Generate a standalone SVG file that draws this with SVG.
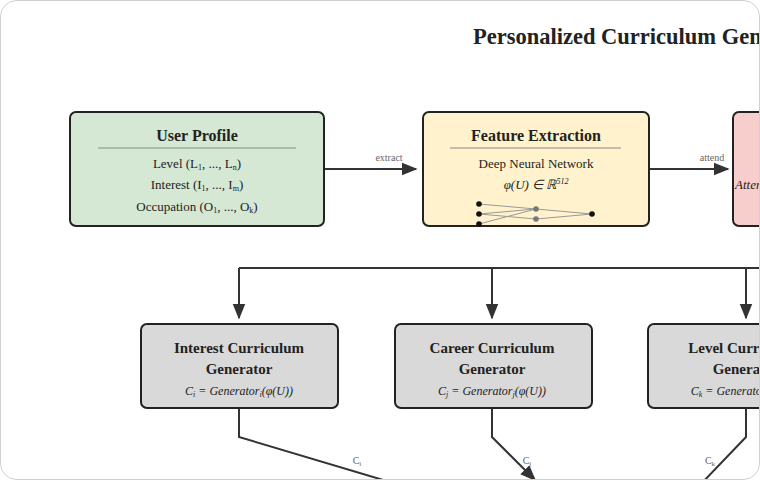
<svg xmlns="http://www.w3.org/2000/svg" width="760" height="480" viewBox="0 0 760 480" font-family="'Liberation Serif','Times New Roman',serif">
<defs>
<clipPath id="fr"><rect x="1" y="1" width="758" height="478" rx="16"/></clipPath>
<marker id="a" viewBox="0 0 10 10" refX="9" refY="5" markerWidth="16" markerHeight="16" markerUnits="userSpaceOnUse" orient="auto"><path d="M0,1 L10,5 L0,9 z" fill="#333"/></marker>
<style>
text{font-family:"Liberation Serif","Times New Roman",serif;fill:#222}
.box{stroke:#222;stroke-width:2}
.t{font-weight:bold;font-size:16px;text-anchor:middle}
.g{font-weight:bold;font-size:15px;text-anchor:middle}
.b{font-size:13px;text-anchor:middle}
.f{font-size:12px;font-style:italic;text-anchor:middle}
.lb{font-size:10px;fill:#666;text-anchor:middle}
.sep{stroke:#888;stroke-width:1.2}
.c{fill:none;stroke:#333;stroke-width:2}
.nn{stroke:#999;stroke-width:1}
</style>
</defs>
<rect x="0.5" y="0.5" width="759" height="479" rx="16" fill="#fff" stroke="#d0d0d0"/>
<g clip-path="url(#fr)">
<text x="473" y="44" style="font-weight:bold;font-size:22.5px">Personalized Curriculum Generation</text>
<g id="connectors">
<line class="c" x1="324" y1="169" x2="416" y2="169" marker-end="url(#a)"/>
<text class="lb" x="389" y="161">extract</text>
<line class="c" x1="649" y1="169" x2="728" y2="169" marker-end="url(#a)"/>
<text class="lb" x="712" y="161">attend</text>
<polyline class="c" points="760,268 239,268"/>
<line class="c" x1="239" y1="268" x2="239" y2="318" marker-end="url(#a)"/>
<line class="c" x1="492" y1="268" x2="492" y2="318" marker-end="url(#a)"/>
<line class="c" x1="746" y1="268" x2="746" y2="318" marker-end="url(#a)"/>
<polyline class="c" points="239,408 239,437 400,485"/>
<polyline class="c" points="492,408 492,437 535,480" marker-end="url(#a)"/>
<polyline class="c" points="746,408 746,437 700,485"/>
<text class="lb" x="357" y="464">C<tspan font-size="7" dy="2">i</tspan></text>
<text class="lb" x="527" y="464">C<tspan font-size="7" dy="2">j</tspan></text>
<text class="lb" x="710" y="464">C<tspan font-size="7" dy="2">k</tspan></text>
</g>
<g id="user-profile">
<rect class="box" x="70" y="112" width="254" height="114" rx="6" fill="#d5e8d4"/>
<text class="t" x="197" y="141">User Profile</text>
<line class="sep" x1="98" y1="148" x2="296" y2="148"/>
<text class="b" x="197" y="168">Level (L<tspan font-size="8" dy="2">1</tspan><tspan dy="-2">, ..., L</tspan><tspan font-size="8" dy="2">n</tspan><tspan dy="-2">)</tspan></text>
<text class="b" x="197" y="189">Interest (I<tspan font-size="8" dy="2">1</tspan><tspan dy="-2">, ..., I</tspan><tspan font-size="8" dy="2">m</tspan><tspan dy="-2">)</tspan></text>
<text class="b" x="197" y="211">Occupation (O<tspan font-size="8" dy="2">1</tspan><tspan dy="-2">, ..., O</tspan><tspan font-size="8" dy="2">k</tspan><tspan dy="-2">)</tspan></text>
</g>
<g id="feature-extraction">
<rect class="box" x="423" y="112" width="226" height="114" rx="6" fill="#fff2cc"/>
<text class="t" x="536" y="141">Feature Extraction</text>
<line class="sep" x1="450" y1="148" x2="621" y2="148"/>
<text class="b" x="536" y="168">Deep Neural Network</text>
<text class="b" x="536" y="189" font-style="italic">φ(U) ∈ ℝ<tspan font-size="8" dy="-5">512</tspan></text>
<g class="nn">
<line x1="479" y1="204" x2="536" y2="209"/><line x1="479" y1="214" x2="536" y2="219"/>
<line x1="479" y1="224" x2="536" y2="209"/><line x1="479" y1="214" x2="536" y2="209"/>
<line x1="536" y1="209" x2="592" y2="214"/><line x1="536" y1="219" x2="592" y2="214"/>
</g>
<circle cx="479" cy="204" r="2.8" fill="#111"/><circle cx="479" cy="214" r="2.8" fill="#111"/><circle cx="479" cy="224" r="2.8" fill="#111"/>
<circle cx="536" cy="209" r="2.8" fill="#777"/><circle cx="536" cy="219" r="2.8" fill="#777"/>
<circle cx="592" cy="214" r="2.8" fill="#111"/>
</g>
<g id="attention">
<rect class="box" x="733" y="112" width="226" height="114" rx="6" fill="#f8cecc"/>
<text x="735" y="189" style="font-size:13px;font-style:italic">Attention</text>
</g>
<g id="interest-gen">
<rect class="box" x="141" y="324" width="197" height="84" rx="6" fill="#d9d9d9"/>
<text class="g" x="239" y="353">Interest Curriculum</text>
<text class="g" x="239" y="374">Generator</text>
<text class="f" x="239" y="395">C<tspan font-size="8" dy="2">i</tspan><tspan dy="-2"> = Generator</tspan><tspan font-size="8" dy="2">i</tspan><tspan dy="-2">(φ(U))</tspan></text>
</g>
<g id="career-gen">
<rect class="box" x="395" y="324" width="197" height="84" rx="6" fill="#d9d9d9"/>
<text class="g" x="492" y="353">Career Curriculum</text>
<text class="g" x="492" y="374">Generator</text>
<text class="f" x="492" y="395">C<tspan font-size="8" dy="2">j</tspan><tspan dy="-2"> = Generator</tspan><tspan font-size="8" dy="2">j</tspan><tspan dy="-2">(φ(U))</tspan></text>
</g>
<g id="level-gen">
<rect class="box" x="648" y="324" width="197" height="84" rx="6" fill="#d9d9d9"/>
<text class="g" x="746" y="353">Level Curriculum</text>
<text class="g" x="746" y="374">Generator</text>
<text class="f" x="746" y="395">C<tspan font-size="8" dy="2">k</tspan><tspan dy="-2"> = Generator</tspan><tspan font-size="8" dy="2">k</tspan><tspan dy="-2">(φ(U))</tspan></text>
</g>
</g>
</svg>
